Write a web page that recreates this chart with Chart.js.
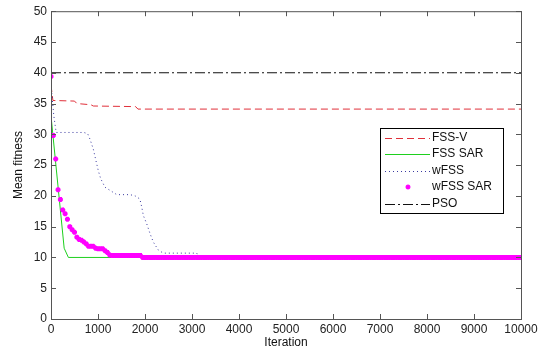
<!DOCTYPE html>
<html>
<head>
<meta charset="utf-8">
<script src="https://cdn.jsdelivr.net/npm/chart.js@4.4.0/dist/chart.umd.min.js"></script>
<style>
html, body { margin: 0; padding: 0; background: #fff; }
canvas { display: block; }
</style>
</head>
<body>
<canvas id="fitnessChart" width="552" height="352"></canvas>
<script>
// values
const seriesNames = ['FSS-V', 'FSS SAR', 'wFSS', 'wFSS SAR', 'PSO'];

const fssvIter = [0, 40, 500, 550, 850, 900, 1800, 1850, 10000];
const fssvFit = [38, 35.5, 35.4, 35.0, 34.8, 34.6, 34.5, 34.1, 34.1];

const fssSarIter = [0, 280, 370, 10000];
const fssSarFit = [33, 11.5, 10.0, 10.0];

const wfssIter = [0, 60, 110, 700, 780, 830, 900, 957, 1006, 1057, 1150, 1255, 1400, 1680, 1790, 1890, 1930, 1965, 2035, 2106, 2177, 2283, 2390, 3100, 3150, 10000];
const wfssFit = [38, 33, 30.3, 30.3, 30.1, 29.2, 27.6, 25.7, 24.1, 22.8, 21.4, 20.9, 20.2, 20.2, 20.0, 19.5, 18.2, 16.8, 15.5, 13.9, 12.5, 11.2, 10.7, 10.7, 10.0, 10.0];

// wFSS SAR is sampled every 50 iterations
const wfssSarStep = 50;
const wfssSarFit = [
  39.4, 29.8, 26.0, 21.0, 19.4, 17.7, 17.1, 16.2, 15.0, 14.5, 14.1, 13.3, 12.9,
  12.8, 12.5, 12.2, 11.8, 11.8, 11.8, 11.5, 11.4, 11.4, 11.4, 11.1, 10.8, 10.4,
  10.3, 10.3, 10.3, 10.3, 10.3, 10.3, 10.3, 10.3, 10.3, 10.3, 10.3, 10.3, 10.3,
  10, 10, 10, 10, 10, 10, 10, 10, 10, 10, 10, 10, 10, 10, 10, 10, 10, 10,
  10, 10, 10, 10, 10, 10, 10, 10, 10, 10, 10, 10, 10, 10, 10, 10, 10, 10,
  10, 10, 10, 10, 10, 10, 10, 10, 10, 10, 10, 10, 10, 10, 10, 10, 10, 10,
  10, 10, 10, 10, 10, 10, 10, 10, 10, 10, 10, 10, 10, 10, 10, 10, 10, 10,
  10, 10, 10, 10, 10, 10, 10, 10, 10, 10, 10, 10, 10, 10, 10, 10, 10, 10,
  10, 10, 10, 10, 10, 10, 10, 10, 10, 10, 10, 10, 10, 10, 10, 10, 10, 10,
  10, 10, 10, 10, 10, 10, 10, 10, 10, 10, 10, 10, 10, 10, 10, 10, 10, 10,
  10, 10, 10, 10, 10, 10, 10, 10, 10, 10, 10, 10, 10, 10, 10, 10, 10, 10,
  10, 10, 10, 10, 10, 10, 10, 10, 10, 10, 10, 10, 10, 10, 10, 10, 10, 10
];

const psoIter = [0, 10000];
const psoFit = [40, 40];

const xTicks = [0, 1000, 2000, 3000, 4000, 5000, 6000, 7000, 8000, 9000, 10000];
const yTicks = [0, 5, 10, 15, 20, 25, 30, 35, 40, 45, 50];

function pairs(xs, ys) {
  return xs.map((x, i) => ({ x: x, y: ys[i] }));
}

const FONT = '"Liberation Sans", Arial, sans-serif';
const AXIS_COLOR = '#555';

// MATLAB style box, inward ticks and legend inside the axes
const matlabFrame = {
  id: 'matlabFrame',
  afterDatasetsDraw(chart) {
    const ctx = chart.ctx;
    const a = chart.chartArea;
    const xs = chart.scales.x, ys = chart.scales.y;
    ctx.save();
    ctx.strokeStyle = AXIS_COLOR;
    ctx.lineWidth = 1;
    ctx.setLineDash([]);
    ctx.beginPath();
    xs.ticks.forEach(t => {
      const px = Math.round(xs.getPixelForValue(t.value)) + 0.5;
      ctx.moveTo(px, a.bottom); ctx.lineTo(px, a.bottom - 5);
      ctx.moveTo(px, a.top); ctx.lineTo(px, a.top + 5);
    });
    ys.ticks.forEach(t => {
      const py = Math.round(ys.getPixelForValue(t.value)) + 0.5;
      ctx.moveTo(a.left, py); ctx.lineTo(a.left + 5, py);
      ctx.moveTo(a.right, py); ctx.lineTo(a.right - 5, py);
    });
    ctx.stroke();
    ctx.strokeRect(a.left + 0.5, a.top + 0.5, a.right - a.left, a.bottom - a.top);

    // legend box
    const bx = 380, by = 128, bw = 123, bh = 85;
    ctx.fillStyle = '#fff';
    ctx.fillRect(bx, by, bw, bh);
    ctx.strokeStyle = '#000';
    ctx.strokeRect(bx + 0.5, by + 0.5, bw, bh);
    ctx.font = '12px ' + FONT;
    ctx.textBaseline = 'middle';
    ctx.textAlign = 'left';
    chart.data.datasets.forEach((ds, i) => {
      const ry = by + 9.5 + i * 16.5;
      if (ds.showLine === false) {
        ctx.strokeStyle = ds.borderColor;
        ctx.lineWidth = 1.5;
        ctx.beginPath();
        const r = 2.5;
        ctx.moveTo(408 - r, ry); ctx.lineTo(408 + r, ry);
        ctx.moveTo(408, ry - r); ctx.lineTo(408, ry + r);
        ctx.moveTo(408 - r * 0.7, ry - r * 0.7); ctx.lineTo(408 + r * 0.7, ry + r * 0.7);
        ctx.moveTo(408 - r * 0.7, ry + r * 0.7); ctx.lineTo(408 + r * 0.7, ry - r * 0.7);
        ctx.stroke();
      } else {
        ctx.strokeStyle = ds.borderColor;
        ctx.lineWidth = ds.borderWidth;
        ctx.setLineDash(ds.borderDash || []);
        ctx.beginPath();
        ctx.moveTo(385, Math.round(ry) + 0.5);
        ctx.lineTo(430, Math.round(ry) + 0.5);
        ctx.stroke();
        ctx.setLineDash([]);
      }
      ctx.fillStyle = '#111';
      ctx.fillText(seriesNames[i], 432, ry);
    });
    ctx.restore();
  }
};

new Chart(document.getElementById('fitnessChart'), {
  type: 'line',
  data: {
    datasets: [{
      label: seriesNames[0],
      data: pairs(fssvIter, fssvFit),
      borderColor: '#e0303a',
      borderWidth: 1,
      borderDash: [7, 4],
      pointRadius: 0,
      order: 5
    }, {
      label: seriesNames[1],
      data: pairs(fssSarIter, fssSarFit),
      borderColor: '#1ed01e',
      borderWidth: 1,
      pointRadius: 0,
      order: 4
    }, {
      label: seriesNames[2],
      data: pairs(wfssIter, wfssFit),
      borderColor: '#3a3aa0',
      borderWidth: 1,
      borderDash: [1, 3],
      pointRadius: 0,
      order: 3
    }, {
      label: seriesNames[3],
      data: wfssSarFit.map((v, i) => ({ x: i * wfssSarStep, y: v })),
      showLine: false,
      borderColor: '#ff00ff',
      backgroundColor: '#ff00ff',
      pointStyle: 'star',
      pointRadius: 2.5,
      pointBorderWidth: 2,
      order: 2
    }, {
      label: seriesNames[4],
      data: pairs(psoIter, psoFit),
      borderColor: '#111',
      borderWidth: 1,
      borderDash: [10, 3, 2, 3],
      pointRadius: 0,
      order: 1
    }]
  },
  options: {
    responsive: false,
    animation: false,
    layout: { padding: { left: 0, right: 31, top: 10, bottom: 0 } },
    plugins: { legend: { display: false }, tooltip: { enabled: false } },
    scales: {
      x: {
        type: 'linear',
        min: 0,
        max: 10000,
        afterBuildTicks: s => { s.ticks = xTicks.map(v => ({ value: v })); },
        afterFit: s => { s.height = 33; },
        grid: { display: false, drawTicks: false },
        border: { display: false },
        ticks: {
          padding: 3, maxRotation: 0, autoSkip: false, color: '#222',
          font: { family: FONT, size: 12 },
          callback: v => String(v)
        },
        title: { display: true, text: 'Iteration', color: '#111', padding: { top: 0, bottom: 2 }, font: { family: FONT, size: 12 } }
      },
      y: {
        min: 0,
        max: 50,
        afterBuildTicks: s => { s.ticks = yTicks.map(v => ({ value: v })); },
        afterFit: s => { s.width = 51; },
        grid: { display: false, drawTicks: false },
        border: { display: false },
        ticks: { padding: 4, color: '#222', font: { family: FONT, size: 12 }, callback: v => String(v) },
        title: { display: true, text: 'Mean fitness', color: '#111', padding: { top: 11, bottom: 0 }, font: { family: FONT, size: 12 } }
      }
    }
  },
  plugins: [matlabFrame]
});
</script>
</body>
</html>
